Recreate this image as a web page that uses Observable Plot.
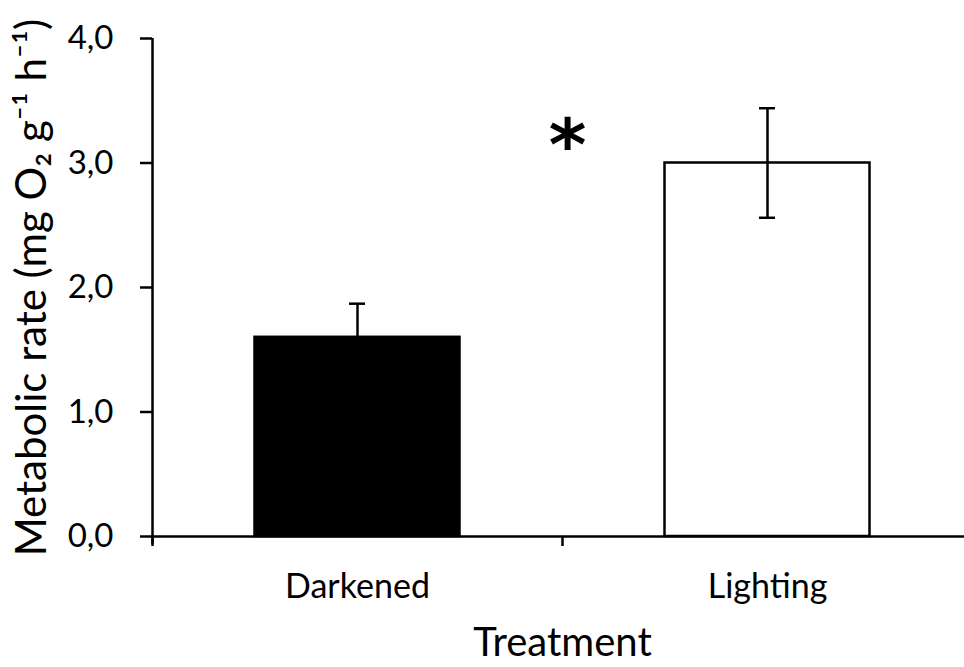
<!DOCTYPE html>
<html><head><meta charset="utf-8">
<script src="https://cdn.jsdelivr.net/npm/d3@7"></script>
<script src="https://cdn.jsdelivr.net/npm/@observablehq/plot@0.6"></script>
<style>body{margin:0;background:#fff}</style>
</head><body><div id="chart"></div>
<script>
const treatments = ["Darkened", "Lighting"];
const means = [1.6, 3.0];
const errors = [0.27, 0.44];
const barFills = ["black", "white"];
const yTicks = [0, 1, 2, 3, 4];
const yTickLabels = ["0,0", "1,0", "2,0", "3,0", "4,0"];
const xTitle = "Treatment";
const yTitle = "Metabolic rate (mg O₂ g⁻¹ h⁻¹)";
const significanceLabels = ["", "*"];

const data = treatments.map((t, i) => ({t, i, mean: means[i], se: errors[i], fill: barFills[i], sig: significanceLabels[i]}));
const font = "Lato, 'Open Sans', sans-serif";

const chart = Plot.plot({
  width: 964,
  height: 667,
  marginLeft: 152,
  marginRight: 0,
  marginTop: 38,
  marginBottom: 131,
  style: {fontFamily: font, color: "black", background: "white"},
  x: {domain: [0, 2], range: [152, 972]},
  y: {domain: [0, 4]},
  color: {type: "identity"},
  marks: [
    Plot.rectY(data, {x1: d => d.i + 0.25, x2: d => d.i + 0.75, y: "mean", fill: "fill", stroke: "black", strokeWidth: 2.5}),
    Plot.ruleX(data, {x: d => d.i + 0.5, y1: d => d.mean - d.se, y2: d => d.mean + d.se, stroke: "black", strokeWidth: 2.5}),
    Plot.ruleY(data, {x1: d => d.i + 0.5, x2: d => d.i + 0.5, y: d => d.mean + d.se, insetLeft: -8, insetRight: -8, strokeWidth: 2.5}),
    Plot.ruleY(data, {x1: d => d.i + 0.5, x2: d => d.i + 0.5, y: d => d.mean - d.se, insetLeft: -8, insetRight: -8, strokeWidth: 2.5}),
    Plot.text(data.filter(d => d.sig), {x: d => d.i, y: "mean", text: "sig", dx: 5, dy: -44, lineAnchor: "top", fontSize: 72, fontWeight: "bold", fontFamily: "'DejaVu Sans', sans-serif", fill: "black"}),
    Plot.ruleY([0], {strokeWidth: 2.5}),
    Plot.ruleX([0], {strokeWidth: 2.5, insetBottom: -8}),
    Plot.axisX({ticks: [0, 1, 2], tickFormat: () => "", tickSize: 10, strokeWidth: 2.5, label: null}),
    Plot.axisY({ticks: yTicks, tickFormat: d => yTickLabels[yTicks.indexOf(d)], tickSize: 12, tickPadding: 27, fontSize: 33, strokeWidth: 2.5, label: null}),
    Plot.text(data, {x: d => d.i + 0.5, y: 0, text: "t", dy: 51, fontSize: 34, fill: "black"}),
    Plot.text([xTitle], {frameAnchor: "bottom", lineAnchor: "bottom", dx: 4, dy: 119, fontSize: 40, fill: "black"}),
    Plot.text([yTitle], {frameAnchor: "left", textAnchor: "middle", dx: -120, dy: 0, rotate: -90, fontSize: 42, fill: "black"})
  ]
});
document.getElementById("chart").appendChild(chart);
</script>
</body></html>
